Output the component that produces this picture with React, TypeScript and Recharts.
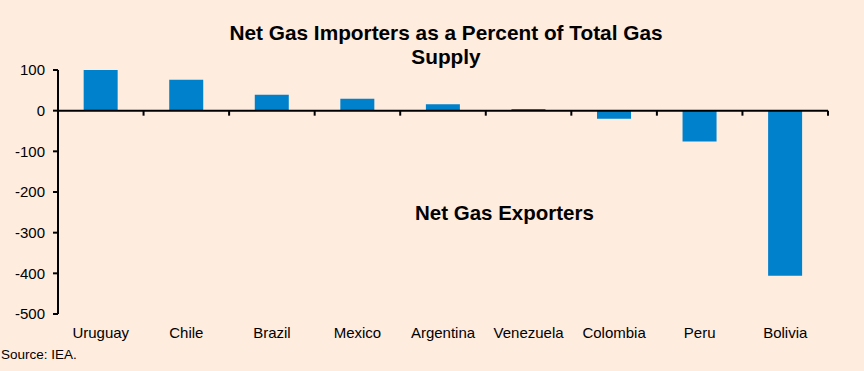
import { BarChart, Bar, XAxis, YAxis, ReferenceLine } from "recharts";

const countries = ["Uruguay", "Chile", "Brazil", "Mexico", "Argentina", "Venezuela", "Colombia", "Peru", "Bolivia"];
const netImports = [100, 76, 39, 29, 16, 4, -20, -76, -406];
const yTicks = [-500, -400, -300, -200, -100, 0, 100];

const data = countries.map((name, i) => ({ name, value: netImports[i] }));

const font = "'Liberation Sans', Arial, sans-serif";
const bg = "#FEECDF";

// zero line with category-boundary ticks hanging below it
function ZeroAxis(props: any) {
  const { x1, x2, y1 } = props;
  const step = (x2 - x1) / countries.length;
  const marks = [];
  for (let i = 1; i <= countries.length; i++) {
    const x = x1 + step * i;
    marks.push(<line key={i} x1={x} x2={x} y1={y1} y2={y1 + 5} stroke="#000" strokeWidth={2} />);
  }
  return (
    <g>
      <line x1={x1} x2={x2} y1={y1} y2={y1} stroke="#000" strokeWidth={2} />
      {marks}
    </g>
  );
}

export default function App() {
  return (
    <div style={{ position: "absolute", left: 0, top: 0, width: 864, height: 371, background: bg, fontFamily: font }}>
      <div
        style={{
          position: "absolute",
          top: 21,
          left: 14,
          width: 864,
          textAlign: "center",
          fontWeight: "bold",
          fontSize: 20.8,
          lineHeight: "24px",
        }}
      >
        Net Gas Importers as a Percent of Total Gas
        <br />
        Supply
      </div>

      <BarChart
        width={864}
        height={371}
        data={data}
        margin={{ top: 70, right: 36, bottom: 27, left: 0 }}
        barCategoryGap="30%"
      >
        <XAxis
          dataKey="name"
          axisLine={false}
          tickLine={false}
          tickMargin={7}
          height={30}
          interval={0}
          tick={{ fill: "#000", fontSize: 15, fontFamily: font }}
        />
        <YAxis
          domain={[-500, 100]}
          ticks={yTicks}
          width={58}
          tickSize={5}
          tickMargin={8}
          axisLine={{ stroke: "#000", strokeWidth: 2 }}
          tickLine={{ stroke: "#000", strokeWidth: 2 }}
          tick={{ fill: "#000", fontSize: 15, fontFamily: font }}
          allowDataOverflow
        />
        <Bar dataKey="value" fill="#0081CC" isAnimationActive={false} />
        <ReferenceLine y={0} shape={ZeroAxis} />
      </BarChart>

      <div style={{ position: "absolute", left: 415, top: 201, fontWeight: "bold", fontSize: 20.5 }}>
        Net Gas Exporters
      </div>
      <div style={{ position: "absolute", left: 1, top: 347, fontSize: 13.5 }}>Source: IEA.</div>
    </div>
  );
}
